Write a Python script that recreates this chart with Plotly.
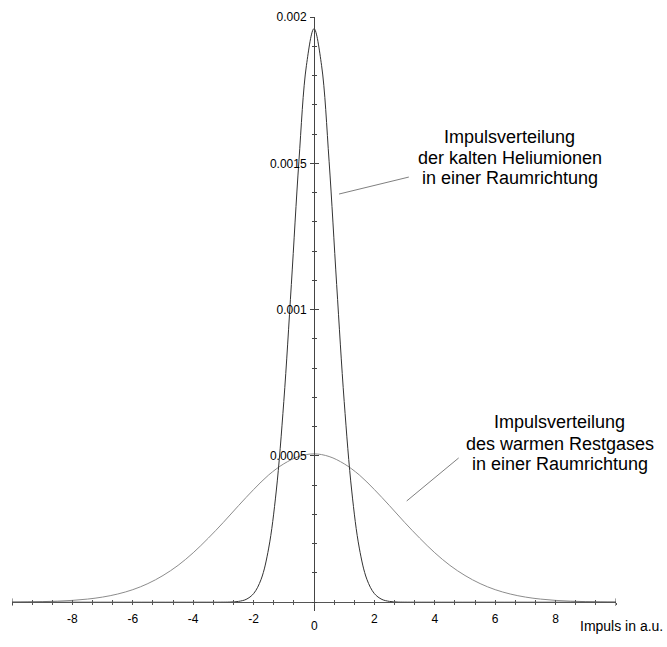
import plotly.graph_objects as go

# Momentum axis (atomic units) and the two 1D momentum distributions
narrow_x = [-10, -6, -4, -3, -2.75, -2.5, -2.25, -2, -1.75, -1.5, -1.25, -1, -0.75, -0.5, -0.25,
            0, 0.25, 0.5, 0.75, 1, 1.25, 1.5, 1.75, 2, 2.25, 2.5, 2.75, 3, 4, 6, 10]
narrow_y = [0.0, 0.0, 0.0, 0.0000002, 0.0000007, 0.0000028, 0.0000096, 0.0000294, 0.0000786,
            0.000185, 0.000380, 0.000686, 0.001086, 0.001507, 0.001835,
            0.001960,
            0.001835, 0.001507, 0.001086, 0.000686, 0.000380, 0.000185, 0.0000786, 0.0000294,
            0.0000096, 0.0000028, 0.0000007, 0.0000002, 0.0, 0.0, 0.0]

wide_x = [-10, -9.5, -9, -8.5, -8, -7.5, -7, -6.5, -6, -5.5, -5, -4.5, -4, -3.5, -3, -2.5, -2,
          -1.5, -1, -0.5, 0, 0.5, 1, 1.5, 2, 2.5, 3, 3.5, 4, 4.5, 5, 5.5, 6, 6.5, 7, 7.5, 8,
          8.5, 9, 9.5, 10]
wide_y = [0.0000005, 0.0000010, 0.0000020, 0.0000036, 0.0000063, 0.0000107, 0.0000176,
          0.0000280, 0.0000429, 0.0000637, 0.0000913, 0.000126, 0.000169, 0.000219, 0.000273,
          0.000330, 0.000385, 0.000435, 0.000473, 0.000498,
          0.000507,
          0.000498, 0.000473, 0.000435, 0.000385, 0.000330, 0.000273, 0.000219, 0.000169,
          0.000126, 0.0000913, 0.0000637, 0.0000429, 0.0000280, 0.0000176, 0.0000107,
          0.0000063, 0.0000036, 0.0000020, 0.0000010, 0.0000005]

x_tick_vals = [-8, -6, -4, -2, 2, 4, 6, 8]
x_tick_text = ["-8", "-6", "-4", "-2", "2", "4", "6", "8"]
y_tick_vals = [0.0005, 0.001, 0.0015, 0.002]
y_tick_text = ["0.0005", "0.001", "0.0015", "0.002"]

label_cold = ["Impulsverteilung", "der kalten Heliumionen", "in einer Raumrichtung"]
label_warm = ["Impulsverteilung", "des warmen Restgases", "in einer Raumrichtung"]
x_title = "Impuls in a.u."

FONT = "Liberation Sans, Arial, sans-serif"
X_RANGE = [-10, 10]
Y_RANGE = [-0.00003, 0.002]
X_AXIS_POS = (0 - Y_RANGE[0]) / (Y_RANGE[1] - Y_RANGE[0])

fig = go.Figure()
fig.add_trace(go.Scatter(x=wide_x, y=wide_y, mode="lines",
                         line=dict(color="#8c8c8c", width=1, shape="spline"),
                         hoverinfo="skip"))
fig.add_trace(go.Scatter(x=narrow_x, y=narrow_y, mode="lines",
                         line=dict(color="#333333", width=1, shape="spline"),
                         hoverinfo="skip"))

tick_font = dict(family=FONT, size=12, color="black")

common_x = dict(range=X_RANGE, showgrid=False, zeroline=False, anchor="free",
                position=X_AXIS_POS, tickcolor="#555", tickwidth=1)
common_y = dict(range=Y_RANGE, showgrid=False, zeroline=False, anchor="free",
                position=0.5, tickcolor="#444", tickwidth=1)

fig.update_layout(
    width=667, height=647,
    margin=dict(l=11.5, r=50.5, t=17, b=36),
    paper_bgcolor="white", plot_bgcolor="white",
    showlegend=False,
    xaxis=dict(**common_x, showline=True, linecolor="#555", linewidth=1,
               ticks="outside", ticklen=2, tickvals=x_tick_vals, ticktext=x_tick_text,
               tickfont=tick_font, ticklabelstandoff=3,
               minor=dict(ticks="outside", tick0=0, dtick=2 / 3, ticklen=2,
                          tickcolor="#555")),
    xaxis2=dict(**common_x, overlaying="x", showline=False, ticks="inside", ticklen=2,
                tickvals=x_tick_vals, showticklabels=False,
                minor=dict(ticks="inside", tick0=0, dtick=2 / 3, ticklen=2,
                           tickcolor="#555")),
    yaxis=dict(**common_y, showline=True, linecolor="#444", linewidth=1,
               ticks="outside", ticklen=4, tickvals=y_tick_vals, ticktext=y_tick_text,
               tickfont=tick_font, ticklabelstandoff=1,
               minor=dict(ticks="outside", tick0=0, dtick=0.0001, ticklen=2,
                          tickcolor="#444")),
    yaxis2=dict(**common_y, overlaying="y", showline=False, ticks="inside", ticklen=4,
                tickvals=y_tick_vals, showticklabels=False,
                minor=dict(ticks="inside", tick0=0, dtick=0.0001, ticklen=2,
                           tickcolor="#444")),
)

# Invisible trace so the overlay axes (the second half of the crossing ticks) are drawn
fig.add_trace(go.Scatter(x=[None], y=[None], xaxis="x2", yaxis="y2", mode="lines",
                         hoverinfo="skip"))

# End bars closing the momentum axis on both sides
for x_end in X_RANGE:
    fig.add_shape(type="line", xref="x", yref="y", x0=x_end, x1=x_end,
                  y0=-0.000013, y1=0.000013, line=dict(color="#444", width=1))

label_font = dict(family=FONT, size=18, color="black")


def add_label(lines, x_center, y_lines):
    for text, y in zip(lines, y_lines):
        fig.add_annotation(x=x_center, y=y, xref="x", yref="y", text=text,
                           showarrow=False, xanchor="center", yanchor="middle",
                           font=label_font)


add_label(label_cold, 6.48, [0.001590, 0.001518, 0.001450])
add_label(label_warm, 8.13, [0.000616, 0.000542, 0.000472])

# Leader lines from the labels to the curves
fig.add_shape(type="line", xref="x", yref="y", x0=0.83, y0=0.001395, x1=3.14, y1=0.001453,
              line=dict(color="#808080", width=1))
fig.add_shape(type="line", xref="x", yref="y", x0=3.07, y0=0.000346, x1=4.79, y1=0.000493,
              line=dict(color="#808080", width=1))

# The origin label sits a little lower than the other x tick labels
fig.add_annotation(x=0, y=0, xref="x", yref="y", text="0", showarrow=False,
                   xanchor="center", yanchor="middle", yshift=-23.5, font=tick_font)

fig.add_annotation(x=1.0099, y=-0.0255, xref="paper", yref="paper", text=x_title,
                   showarrow=False, xanchor="center", yanchor="middle",
                   font=dict(family=FONT, size=14, color="black"))

fig.write_html("out.html")
